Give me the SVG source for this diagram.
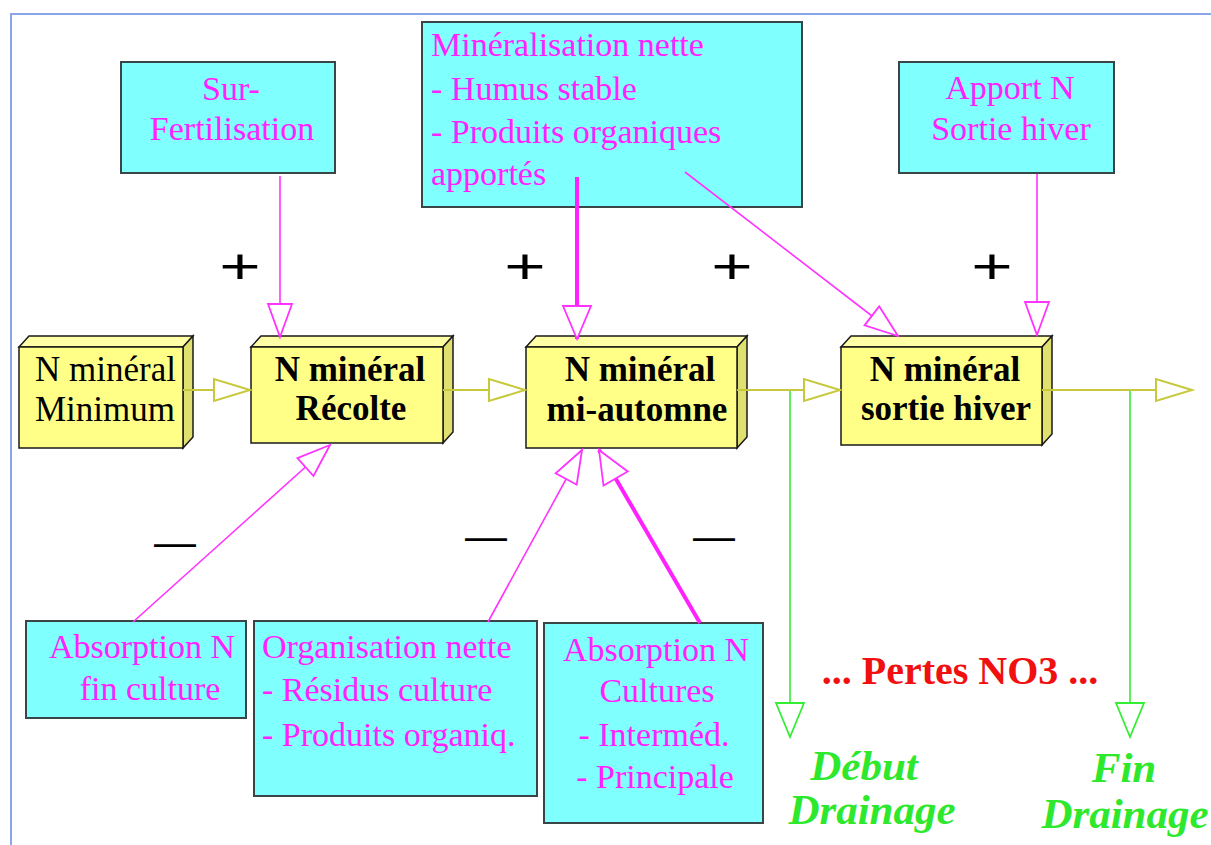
<svg xmlns="http://www.w3.org/2000/svg" width="1211" height="845" viewBox="0 0 1211 845">
<style>
.cy{fill:#80ffff;stroke:#3a4646;stroke-width:2}
.mg{font-family:"Liberation Serif","Times New Roman",serif;font-size:34px;fill:#ff22ff}
.yf{fill:#ffff88;stroke:#1a1a1a;stroke-width:1.5}
.yt{fill:#ffffa6;stroke:#1a1a1a;stroke-width:1.5}
.ys{fill:#e0e070;stroke:#1a1a1a;stroke-width:1.5}
.bk{font-family:"Liberation Serif","Times New Roman",serif;font-size:35px;fill:#000}
.b{font-weight:bold}
.pk{stroke:#ff33ff;stroke-width:1.6;fill:none}
.pkb{stroke:#ff22ff;stroke-width:4;fill:none}
.yl{stroke:#c8c83c;stroke-width:2;fill:none}
.gr{stroke:#33ee33;stroke-width:1.6;fill:none}
.sg{font-family:"Liberation Sans",Arial,sans-serif;fill:#000}
.red{font-family:"Liberation Serif","Times New Roman",serif;font-size:40px;font-weight:bold;fill:#f01010}
.grt{font-family:"Liberation Serif","Times New Roman",serif;font-size:43px;font-weight:bold;font-style:italic;fill:#2ee82e}
</style>
<defs>
<marker id="hp" markerUnits="userSpaceOnUse" viewBox="-40 -20 44 40" markerWidth="44" markerHeight="40" refX="0" refY="0" orient="auto" overflow="visible"><path d="M0,0 L-33,-12 L-33,12 Z" fill="#fff" stroke="#ff33ff" stroke-width="1.8"/></marker>
<marker id="hpb" markerUnits="userSpaceOnUse" viewBox="-40 -20 44 40" markerWidth="44" markerHeight="40" refX="0" refY="0" orient="auto" overflow="visible"><path d="M0,0 L-33,-14 L-33,14 Z" fill="#fff" stroke="#ff33ff" stroke-width="1.8"/></marker>
<marker id="hy" markerUnits="userSpaceOnUse" viewBox="-40 -20 44 40" markerWidth="44" markerHeight="40" refX="0" refY="0" orient="auto" overflow="visible"><path d="M0,0 L-36,-11 L-36,11 Z" fill="#fff" stroke="#c8c83c" stroke-width="2"/></marker>
<marker id="hg" markerUnits="userSpaceOnUse" viewBox="-40 -20 44 40" markerWidth="44" markerHeight="40" refX="0" refY="0" orient="auto" overflow="visible"><path d="M0,0 L-34,-14 L-34,14 Z" fill="#fff" stroke="#33ee33" stroke-width="1.8"/></marker>
</defs>
<rect width="1211" height="845" fill="#fff"/>
<path d="M11,845 V14 H1211" fill="none" stroke="#8aa6e6" stroke-width="2"/>

<g id="signs">
<text class="sg" font-size="50" text-anchor="middle" transform="translate(240,283) scale(1.42,1)">+</text>
<text class="sg" font-size="50" text-anchor="middle" transform="translate(525,283) scale(1.42,1)">+</text>
<text class="sg" font-size="50" text-anchor="middle" transform="translate(732,283) scale(1.42,1)">+</text>
<text class="sg" font-size="50" text-anchor="middle" transform="translate(992,283) scale(1.42,1)">+</text>
<text class="sg" font-size="42" text-anchor="middle" x="175" y="556">—</text>
<text class="sg" font-size="42" text-anchor="middle" x="486" y="550">—</text>
<text class="sg" font-size="42" text-anchor="middle" x="714" y="550">—</text>
</g>

<g id="sur-fertilisation">
<rect class="cy" x="121" y="62" width="214" height="111"/>
<text class="mg" text-anchor="middle" x="231" y="100">Sur-</text>
<text class="mg" text-anchor="middle" x="232" y="140">Fertilisation</text>
</g>

<g id="mineralisation">
<rect class="cy" x="422" y="22" width="380" height="185"/>
<text class="mg" x="431" y="56">Minéralisation nette</text>
<text class="mg" x="431" y="100">- Humus stable</text>
<text class="mg" x="431" y="143">- Produits organiques</text>
<text class="mg" x="431" y="185">apportés</text>
</g>

<g id="apport">
<rect class="cy" x="899" y="62" width="215" height="111"/>
<text class="mg" text-anchor="middle" x="1010" y="99">Apport N</text>
<text class="mg" text-anchor="middle" x="1011" y="140">Sortie hiver</text>
</g>

<g id="n-minimum">
<polygon class="yt" points="19,347 29,336 193,336 183,347"/>
<polygon class="ys" points="183,347 193,336 193,437 183,448"/>
<rect class="yf" x="19" y="347" width="164" height="101"/>
<text class="bk" x="35" y="381">N minéral</text>
<text class="bk" x="35" y="421">Minimum</text>
</g>

<g id="n-recolte">
<polygon class="yt" points="251,347 261,336 453,336 443,347"/>
<polygon class="ys" points="443,347 453,336 453,432 443,443"/>
<rect class="yf" x="251" y="347" width="192" height="96"/>
<text class="bk b" text-anchor="middle" x="350" y="381">N minéral</text>
<text class="bk b" text-anchor="middle" x="351" y="420">Récolte</text>
</g>

<g id="n-mi-automne">
<polygon class="yt" points="526,347 536,336 747,336 737,347"/>
<polygon class="ys" points="737,347 747,336 747,437 737,448"/>
<rect class="yf" x="526" y="347" width="211" height="101"/>
<text class="bk b" text-anchor="middle" x="640" y="381">N minéral</text>
<text class="bk b" text-anchor="middle" x="637" y="421">mi-automne</text>
</g>

<g id="n-sortie-hiver">
<polygon class="yt" points="841,347 851,336 1052,336 1042,347"/>
<polygon class="ys" points="1042,347 1052,336 1052,434 1042,445"/>
<rect class="yf" x="841" y="347" width="201" height="98"/>
<text class="bk b" text-anchor="middle" x="945" y="381">N minéral</text>
<text class="bk b" text-anchor="middle" x="946" y="420">sortie hiver</text>
</g>

<g id="absorption-fin">
<rect class="cy" x="26" y="621" width="220" height="97"/>
<text class="mg" text-anchor="middle" x="142" y="658">Absorption N</text>
<text class="mg" text-anchor="middle" x="150" y="700">fin culture</text>
</g>

<g id="organisation">
<rect class="cy" x="254" y="621" width="283" height="175"/>
<text class="mg" x="262" y="658">Organisation nette</text>
<text class="mg" x="262" y="701">- Résidus culture</text>
<text class="mg" x="262" y="746">- Produits organiq.</text>
</g>

<g id="absorption-cultures">
<rect class="cy" x="544" y="623" width="219" height="200"/>
<text class="mg" text-anchor="middle" x="656" y="661">Absorption N</text>
<text class="mg" text-anchor="middle" x="657" y="702">Cultures</text>
<text class="mg" text-anchor="middle" x="654" y="746">- Interméd.</text>
<text class="mg" text-anchor="middle" x="655" y="788">- Principale</text>
</g>

<g id="pertes">
<text class="red" text-anchor="middle" x="960" y="684">... Pertes NO3 ...</text>
</g>

<g id="debut-drainage">
<text class="grt" text-anchor="middle" x="864" y="780">Début</text>
<text class="grt" text-anchor="middle" x="872" y="824">Drainage</text>
</g>

<g id="fin-drainage">
<text class="grt" text-anchor="middle" x="1124" y="782">Fin</text>
<text class="grt" text-anchor="middle" x="1125" y="828">Drainage</text>
</g>

<g id="connectors">
<path class="pk" d="M280,176 V337" marker-end="url(#hp)"/>
<path class="pkb" d="M577,177 V339" marker-end="url(#hpb)"/>
<path class="pk" d="M685,172 L898,336" marker-end="url(#hp)"/>
<path class="pk" d="M1037,174 V335" marker-end="url(#hp)"/>
<path class="pk" d="M133,622 L330,445" marker-end="url(#hp)"/>
<path class="pk" d="M488,622 L582,450" marker-end="url(#hp)"/>
<path class="pkb" d="M700,623 L599,450" marker-end="url(#hpb)"/>
<path class="yl" d="M183,390 H250" marker-end="url(#hy)"/>
<path class="yl" d="M443,390 H525" marker-end="url(#hy)"/>
<path class="yl" d="M737,390 H840" marker-end="url(#hy)"/>
<path class="yl" d="M1042,390 H1192" marker-end="url(#hy)"/>
<path class="gr" d="M790,391 V737" marker-end="url(#hg)"/>
<path class="gr" d="M1130,391 V737" marker-end="url(#hg)"/>
</g>
</svg>
